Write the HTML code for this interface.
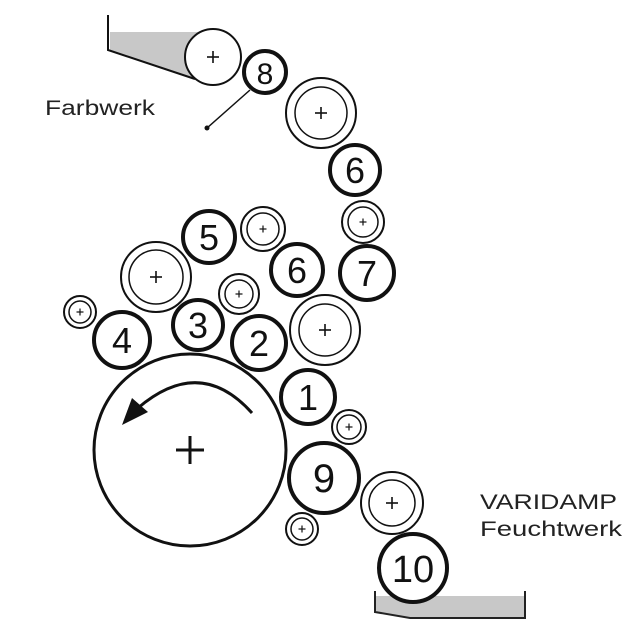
<!DOCTYPE html>
<html><head><meta charset="utf-8"><style>
html,body{margin:0;padding:0;background:#fff;}
svg{display:block}
.n{font-family:"Liberation Sans",sans-serif;font-size:36px;text-anchor:middle;fill:#111}
.t{font-family:"Liberation Sans",sans-serif;font-size:21px;fill:#222}
</style></head><body>
<svg width="641" height="642" viewBox="0 0 641 642" xmlns="http://www.w3.org/2000/svg">
<defs>
<g id="pl"><line x1="-6" y1="0" x2="6" y2="0" stroke="#111" stroke-width="1.6"/><line x1="0" y1="-6" x2="0" y2="6" stroke="#111" stroke-width="1.6"/></g>
<g id="ps"><line x1="-3.5" y1="0" x2="3.5" y2="0" stroke="#111" stroke-width="1.2"/><line x1="0" y1="-3.5" x2="0" y2="3.5" stroke="#111" stroke-width="1.2"/></g>
</defs>
<path d="M110 32 L200 32 L200 80 L190 78 L110 50 Z" fill="#c8c8c8"/>
<path d="M108 15 L108 50 L195 79" fill="none" stroke="#111" stroke-width="2"/>
<circle cx="213" cy="57" r="28" fill="#fff" stroke="#111" stroke-width="2"/><use href="#pl" x="213" y="57"/>
<path d="M376 596 L525 596 L525 618 L410 618 L376 612 Z" fill="#c8c8c8"/>
<path d="M375 591 L375 612 L410 618 L525 618 L525 591" fill="none" stroke="#222" stroke-width="2"/>
<g fill="#fff" stroke="#111">
<circle cx="321" cy="113" r="35" stroke-width="2"/><circle cx="321" cy="113" r="26" stroke-width="1.5"/>
<circle cx="156" cy="277" r="35" stroke-width="2"/><circle cx="156" cy="277" r="27" stroke-width="1.5"/>
<circle cx="325" cy="330" r="35" stroke-width="2"/><circle cx="325" cy="330" r="26" stroke-width="1.5"/>
<circle cx="392" cy="503" r="31" stroke-width="2"/><circle cx="392" cy="503" r="23" stroke-width="1.5"/>
<circle cx="363" cy="222" r="21" stroke-width="2"/><circle cx="363" cy="222" r="15" stroke-width="1.5"/>
<circle cx="263" cy="229" r="22" stroke-width="2"/><circle cx="263" cy="229" r="16" stroke-width="1.5"/>
<circle cx="239" cy="294" r="20" stroke-width="2"/><circle cx="239" cy="294" r="14" stroke-width="1.5"/>
<circle cx="80" cy="312" r="16" stroke-width="2"/><circle cx="80" cy="312" r="11" stroke-width="1.5"/>
<circle cx="349" cy="427" r="17" stroke-width="2"/><circle cx="349" cy="427" r="12" stroke-width="1.5"/>
<circle cx="302" cy="529" r="16" stroke-width="2"/><circle cx="302" cy="529" r="11" stroke-width="1.5"/>
<circle cx="190" cy="450" r="96" stroke-width="3"/>
<circle cx="265" cy="72" r="21" stroke-width="4"/>
<circle cx="355" cy="170" r="25" stroke-width="4"/>
<circle cx="367" cy="273" r="27" stroke-width="4"/>
<circle cx="209" cy="237" r="26" stroke-width="4"/>
<circle cx="297" cy="270" r="26" stroke-width="4"/>
<circle cx="122" cy="340" r="28" stroke-width="4"/>
<circle cx="198" cy="325" r="25" stroke-width="4"/>
<circle cx="259" cy="343" r="27" stroke-width="4"/>
<circle cx="308" cy="397" r="27" stroke-width="4"/>
<circle cx="324" cy="478" r="35" stroke-width="4"/>
<circle cx="413" cy="568" r="34" stroke-width="4"/>
</g>
<use href="#pl" x="321" y="113"/><use href="#pl" x="156" y="277"/><use href="#pl" x="325" y="330"/><use href="#pl" x="392" y="503"/>
<use href="#ps" x="363" y="222"/><use href="#ps" x="263" y="229"/><use href="#ps" x="239" y="294"/><use href="#ps" x="80" y="312"/><use href="#ps" x="349" y="427"/><use href="#ps" x="302" y="529"/>
<g stroke="#111" stroke-width="3"><line x1="176" y1="450" x2="204" y2="450"/><line x1="190" y1="436" x2="190" y2="464"/></g>
<path d="M252 413 Q200 355 138 408" fill="none" stroke="#111" stroke-width="3"/>
<polygon points="122,425 132,398 148,412" fill="#111"/>
<line x1="250" y1="90" x2="207" y2="128" stroke="#111" stroke-width="1.5"/><circle cx="207" cy="128" r="2.5" fill="#111"/>
<text class="n" x="265" y="84" style="font-size:30px">8</text>
<text class="n" x="355" y="183">6</text>
<text class="n" x="367" y="286">7</text>
<text class="n" x="209" y="250">5</text>
<text class="n" x="297" y="283">6</text>
<text class="n" x="122" y="353">4</text>
<text class="n" x="198" y="338">3</text>
<text class="n" x="259" y="356">2</text>
<text class="n" x="308" y="410">1</text>
<text class="n" x="324" y="492" style="font-size:40px">9</text>
<text class="n" x="413" y="582" style="font-size:38px">10</text>
<text class="t" x="45" y="115" textLength="110" lengthAdjust="spacingAndGlyphs">Farbwerk</text>
<text class="t" x="480" y="509" textLength="137" lengthAdjust="spacingAndGlyphs">VARIDAMP</text>
<text class="t" x="480" y="536" textLength="142" lengthAdjust="spacingAndGlyphs">Feuchtwerk</text>
</svg>
</body></html>
